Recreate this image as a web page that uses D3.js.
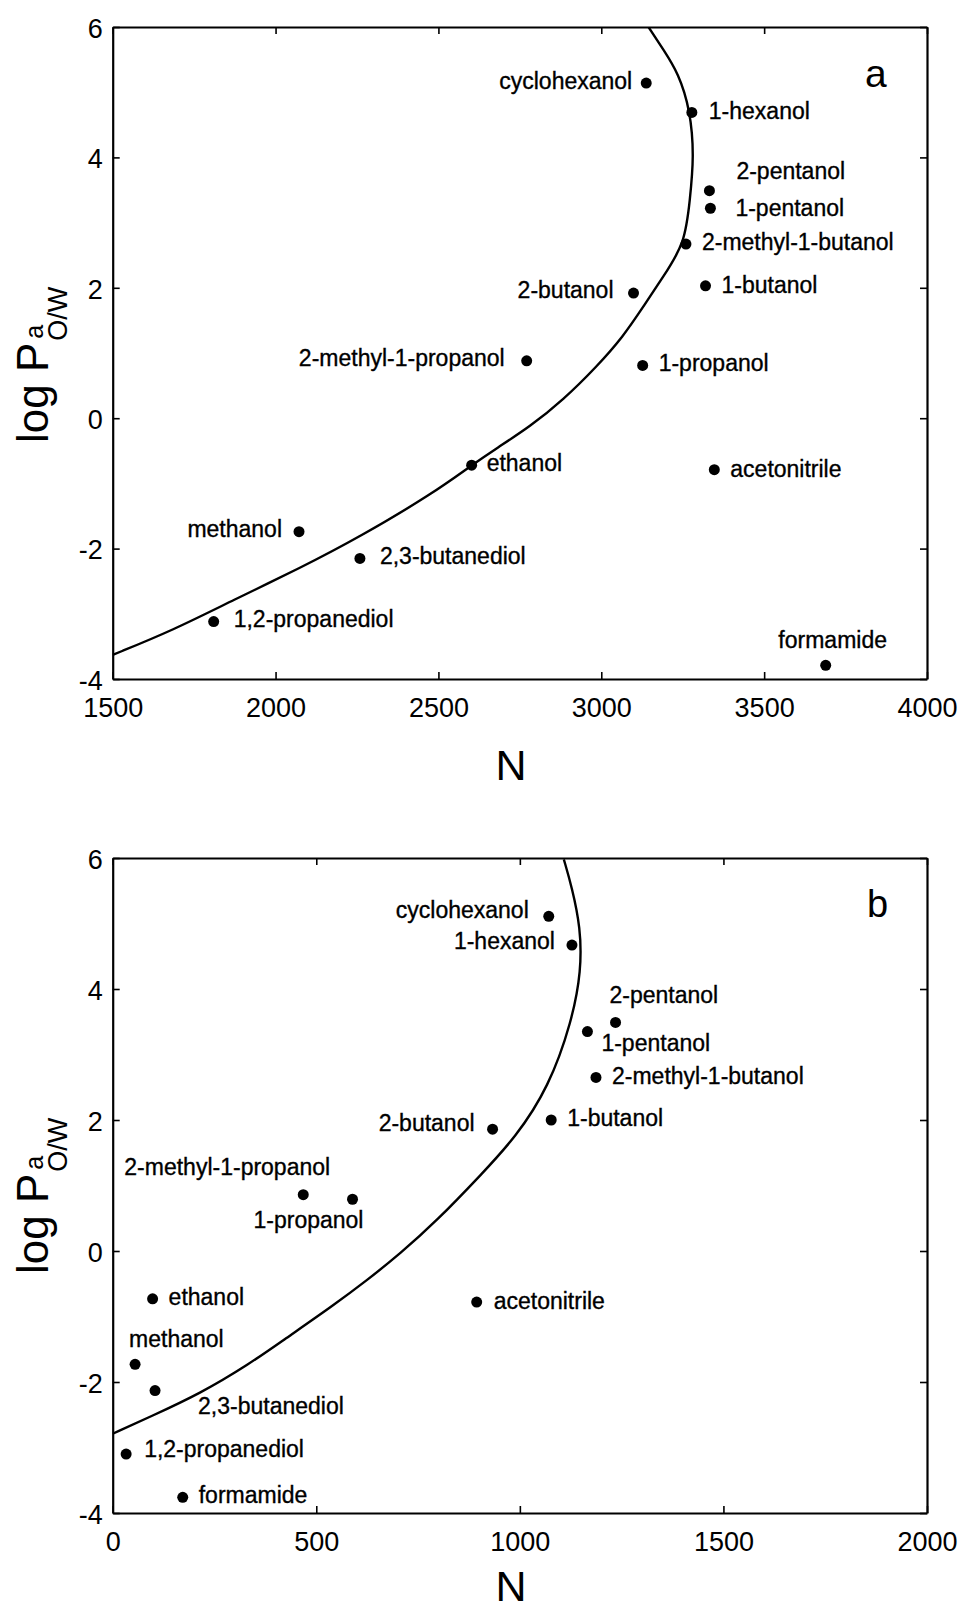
<!DOCTYPE html>
<html lang="en">
<head>
<meta charset="UTF-8">
<title>log P vs N</title>
<script src="https://cdn.jsdelivr.net/npm/d3@7"></script>
<style>
    body { margin: 0; background: #fff; }
    svg { display: block; font-family: "Liberation Sans", Arial, sans-serif; }
    text { fill: #000; stroke: #000; stroke-width: 0.35px; }
</style>
</head>
<body>
<script>
    // solvents, same order in both panels
    var names = ["cyclohexanol", "1-hexanol", "2-pentanol", "1-pentanol", "2-methyl-1-butanol",
        "1-butanol", "2-butanol", "1-propanol", "2-methyl-1-propanol", "ethanol", "methanol",
        "2,3-butanediol", "1,2-propanediol", "acetonitrile", "formamide"];

    // panel a
    var nA = [3138, 3278, 3332, 3335, 3260, 3320, 3099, 3127, 2771, 2602, 2072, 2259, 1810, 3347, 3689];
    var logPA = [5.14, 4.69, 3.49, 3.22, 2.67, 2.03, 1.92, 0.81, 0.88, -0.72, -1.74, -2.15, -3.12, -0.79, -3.79];
    var curveNA = [1500, 1686, 1870, 2075, 2259, 2484, 2602, 2679, 2781, 2883, 2986, 3067, 3129, 3190, 3257, 3272, 3285, 3273, 3237, 3191, 3145];
    var curveLogPA = [-3.63, -3.25, -2.79, -2.30, -1.82, -1.15, -0.72, -0.46, -0.13, 0.28, 0.79, 1.25, 1.71, 2.17, 2.68, 3.35, 4.01, 4.73, 5.29, 5.65, 6.0];
    var xTicksA = [1500, 2000, 2500, 3000, 3500, 4000];

    // panel b
    var nB = [1071, 1128, 1235, 1166, 1187, 1077, 933, 589, 468, 98, 55, 104, 33, 894, 172];
    var logPB = [5.11, 4.67, 3.49, 3.35, 2.65, 2.00, 1.86, 0.79, 0.86, -0.73, -1.73, -2.13, -3.10, -0.78, -3.76];
    var curveNB = [0, 92, 214, 337, 419, 542, 624, 706, 796, 907, 989, 1071, 1128, 1151, 1149, 1128, 1108];
    var curveLogPB = [-2.79, -2.53, -2.18, -1.72, -1.36, -0.83, -0.45, -0.04, 0.46, 1.18, 1.73, 2.50, 3.51, 4.28, 4.94, 5.55, 5.98];
    var xTicksB = [0, 500, 1000, 1500, 2000];

    var yTicks = [-4, -2, 0, 2, 4, 6];

    // label placement relative to the dot: dx, dy, anchor
    var placeA = [[-14, 6, "end"], [17, 7, "start"], [27, -12, "start"], [25, 8, "start"], [16, 6, "start"],
        [16, 7, "start"], [-20, 5, "end"], [16, 6, "start"], [-22, 5, "end"], [15, 6, "start"], [-17, 5, "end"],
        [20, 6, "start"], [20, 5, "start"], [16, 7, "start"], [7, -17, "middle"]];
    var placeB = [[-20, 2, "end"], [-17, 4, "end"], [-6, -19, "start"], [14, 19, "start"], [16, 7, "start"],
        [16, 6, "start"], [-18, 2, "end"], [-44, 29, "middle"], [-76, -20, "middle"], [16, 6, "start"], [-6, -17, "start"],
        [43, 23, "start"], [18, 3, "start"], [17, 7, "start"], [16, 6, "start"]];

    var W = 964, H = 1612;
    var left = 112.7, right = 927;
    var plain = function (d) { return String(d); }; // hyphen minus, no thousands comma

    var svg = d3.select("body").append("svg")
        .attr("width", W)
        .attr("height", H);

    var panels = [
        { id: "a", n: nA, logp: logPA, cN: curveNA, cP: curveLogPA, xDomain: [1500, 4000], xTicks: xTicksA,
          top: 27, bottom: 679, place: placeA, tag: [865, 87, 39], nLabelY: 780 },
        { id: "b", n: nB, logp: logPB, cN: curveNB, cP: curveLogPB, xDomain: [0, 2000], xTicks: xTicksB,
          top: 858, bottom: 1513, place: placeB, tag: [867, 917, 38], nLabelY: 1601 }
    ];

    panels.forEach(function (p) {
        var x = d3.scaleLinear().domain(p.xDomain).range([left, right]);
        var y = d3.scaleLinear().domain([-4, 6]).range([p.bottom, p.top]);
        var g = svg.append("g");

        // clip for the fitted curve
        g.append("clipPath").attr("id", "clip-" + p.id)
            .append("rect")
            .attr("x", left).attr("y", p.top)
            .attr("width", right - left).attr("height", p.bottom - p.top);

        // axes, ticks point inwards on all four sides
        var axB = g.append("g").attr("transform", "translate(0," + p.bottom + ")")
            .call(d3.axisBottom(x).tickValues(p.xTicks).tickFormat(plain).tickSizeInner(-7).tickSizeOuter(0).tickPadding(19));
        var axT = g.append("g").attr("transform", "translate(0," + p.top + ")")
            .call(d3.axisTop(x).tickValues(p.xTicks).tickSizeInner(-7).tickSizeOuter(0).tickFormat(""));
        var axL = g.append("g").attr("transform", "translate(" + left + ",0)")
            .call(d3.axisLeft(y).tickValues(yTicks).tickFormat(plain).tickSizeInner(-7).tickSizeOuter(0).tickPadding(10));
        var axR = g.append("g").attr("transform", "translate(" + right + ",0)")
            .call(d3.axisRight(y).tickValues(yTicks).tickSizeInner(-7).tickSizeOuter(0).tickFormat(""));

        [axB, axT, axL, axR].forEach(function (a) {
            a.select(".domain").attr("stroke", "#000").attr("stroke-width", 2.2);
            a.selectAll(".tick line").attr("stroke", "#000").attr("stroke-width", 1.6);
            a.selectAll(".tick text")
                .attr("fill", "#000")
                .style("stroke", "none")
                .style("font-family", "'Liberation Sans', Arial, sans-serif")
                .style("font-size", "27px");
        });
        axL.selectAll(".tick text").attr("dy", "0.38em");

        // fitted curve
        var line = d3.line()
            .x(function (i) { return x(p.cN[i]); })
            .y(function (i) { return y(p.cP[i]); })
            .curve(d3.curveBasis);
        g.append("path")
            .attr("clip-path", "url(#clip-" + p.id + ")")
            .attr("d", line(d3.range(p.cN.length)))
            .attr("fill", "none")
            .attr("stroke", "#000")
            .attr("stroke-width", 2.4);

        // points
        g.append("g").selectAll("circle")
            .data(d3.range(names.length))
            .enter()
            .append("circle")
            .attr("cx", function (i) { return x(p.n[i]); })
            .attr("cy", function (i) { return y(p.logp[i]); })
            .attr("r", 5.5)
            .attr("fill", "#000");

        // point labels
        g.append("g").selectAll("text")
            .data(d3.range(names.length))
            .enter()
            .append("text")
            .attr("x", function (i) { return x(p.n[i]) + p.place[i][0]; })
            .attr("y", function (i) { return y(p.logp[i]) + p.place[i][1]; })
            .attr("text-anchor", function (i) { return p.place[i][2]; })
            .style("font-size", "23px")
            .text(function (i) { return names[i]; });

        // panel tag
        g.append("text")
            .attr("x", p.tag[0]).attr("y", p.tag[1])
            .style("font-size", p.tag[2] + "px")
            .style("stroke", "none")
            .text(p.id);

        // x axis title
        g.append("text")
            .attr("x", 511).attr("y", p.nLabelY)
            .attr("text-anchor", "middle")
            .style("font-size", "43px")
            .style("stroke", "none")
            .text("N");

        // y axis title: log P with stacked sub/superscript
        var yl = g.append("g")
            .attr("transform", "translate(48," + (p.top + 416) + ") rotate(-90)")
            .style("stroke", "none");
        var main = yl.append("text")
            .attr("x", 0).attr("y", 0)
            .style("font-size", "44px")
            .style("stroke", "none")
            .text("log P");
        var len = main.node().getComputedTextLength();
        yl.append("text")
            .attr("x", len + 2).attr("y", 19)
            .style("font-size", "27px")
            .style("stroke", "none")
            .text("O/W");
        yl.append("text")
            .attr("x", len + 4).attr("y", -5)
            .style("font-size", "25px")
            .style("stroke", "none")
            .text("a");
    });
</script>
</body>
</html>
